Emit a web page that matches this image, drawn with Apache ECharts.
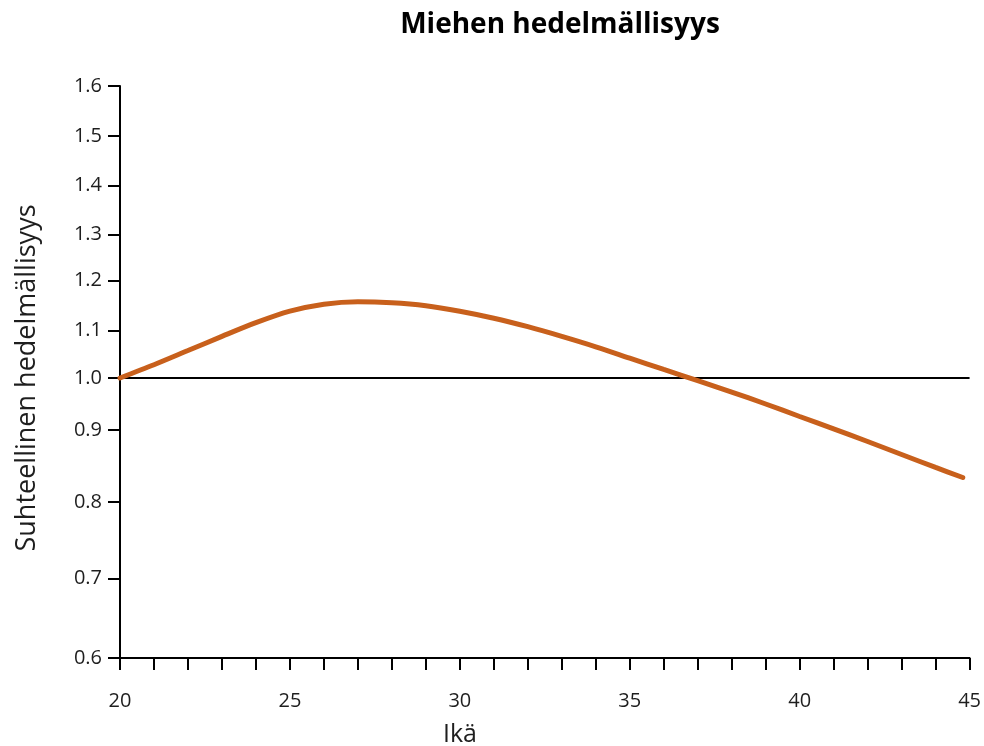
<!DOCTYPE html>
<html>
<head>
<meta charset="utf-8">
<script src="https://cdn.jsdelivr.net/npm/echarts@6/dist/echarts.min.js"></script>
<style>html,body{margin:0;padding:0;background:#fff;}#c{width:984px;height:746px;}</style>
</head>
<body>
<div id="c"></div>
<script>
// Data
var ages = [20,21,22,23,24,25,26,27,28,29,30,31,32,33,34,35,36,37,38,39,40,41,42,43,44,44.8];
var fertility = [1.000,1.028,1.058,1.088,1.116,1.139,1.153,1.158,1.156,1.150,1.139,1.125,1.108,1.088,1.066,1.042,1.018,0.995,0.973,0.950,0.926,0.902,0.884,0.866,0.848,0.834];
var yTickLabels = ['0.6','0.7','0.8','0.9','1.0','1.1','1.2','1.3','1.4','1.5','1.6'];
var xTickLabels = [20,25,30,35,40,45];
var refValue = 1.0;

// The y scale of the original is non-uniform; it is defined by where each tick sits (relative axis units).
var scaleKnotValues = [0.6,0.7,0.8,0.9,1.0,1.1,1.2,1.3,1.4,1.5,1.6];
var scaleKnotUnits  = [0,79.3,156,228,280,327.3,377.3,423.3,472.7,522,572];

function toUnits(v){
  for (var i=0;i<scaleKnotValues.length-1;i++){
    var a=scaleKnotValues[i], b=scaleKnotValues[i+1];
    if (v<=b || i===scaleKnotValues.length-2){
      var t=(v-a)/(b-a);
      return scaleKnotUnits[i]+t*(scaleKnotUnits[i+1]-scaleKnotUnits[i]);
    }
  }
}
var tickUnits = yTickLabels.map(function(s){return toUnits(parseFloat(s));});
var labelByUnit = {};
tickUnits.forEach(function(u,i){labelByUnit[u.toFixed(3)] = yTickLabels[i];});

var chart = echarts.init(document.getElementById('c'), null, {renderer:'canvas'});
var FONT = 'Open Sans';
var txt = '#1e1e1e';
chart.setOption({
  animation:false,
  backgroundColor:'#fff',
  grid:{left:120,right:14,top:86,bottom:88,containLabel:false},
  xAxis:{
    type:'value', min:20, max:45, interval:5,
    axisLine:{show:true,onZero:false,lineStyle:{color:'#000',width:2}},
    axisTick:{show:true,length:12,lineStyle:{color:'#000',width:2}},
    minorTick:{show:true,splitNumber:5,length:12,lineStyle:{color:'#000',width:2}},
    splitLine:{show:false},
    axisLabel:{margin:33,fontFamily:FONT,fontSize:20,color:txt,
      formatter:function(v){return xTickLabels.indexOf(v)>=0?String(v):'';}}
  },
  yAxis:{
    type:'value', min:0, max:572,
    axisLine:{show:true,lineStyle:{color:'#000',width:2}},
    axisTick:{show:true,length:12,customValues:tickUnits,lineStyle:{color:'#000',width:2}},
    splitLine:{show:false},
    axisLabel:{margin:18,fontFamily:FONT,fontSize:20,color:txt,customValues:tickUnits,
      formatter:function(v){return labelByUnit[Number(v).toFixed(3)]||'';}}
  },
  graphic:[
    {type:'text',x:560,y:25,style:{text:'Miehen hedelmällisyys',font:'bold 28px "Open Sans"',fill:'#000',align:'center',verticalAlign:'middle'}},
    {type:'text',x:460,y:735,style:{text:'Ikä',font:'25px "Open Sans"',fill:txt,align:'center',verticalAlign:'middle'}},
    {type:'text',x:27,y:378,rotation:Math.PI/2,style:{text:'Suhteellinen hedelmällisyys',font:'27px "Open Sans"',fill:txt,align:'center',verticalAlign:'middle'}}
  ],
  series:[{
    type:'line',
    data:ages.map(function(a,i){return [a,toUnits(fertility[i])];}),
    smooth:0.3,
    showSymbol:false,
    lineStyle:{color:'#c8601c',width:5,cap:'round'},
    z:3,
    markLine:{
      silent:true,symbol:['none','none'],label:{show:false},
      lineStyle:{color:'#000',width:2,type:'solid'},
      data:[{yAxis:toUnits(refValue)}],
      z:2
    }
  }]
});
</script>
</body>
</html>
